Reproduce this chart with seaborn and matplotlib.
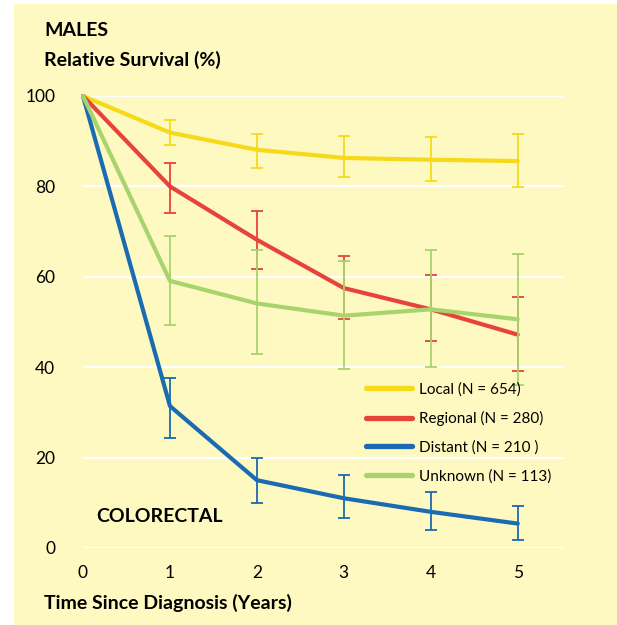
import seaborn as sns
import matplotlib.pyplot as plt
import pandas as pd
from matplotlib.patches import Rectangle
from matplotlib.lines import Line2D

years = [0, 1, 2, 3, 4, 5]
stages = ["Local (N = 654)", "Regional (N = 280)", "Distant (N = 210 )", "Unknown (N = 113)"]
colors = ["#F6DA1A", "#E8433A", "#1A6BB2", "#A8D46E"]

local = [100, 91.9, 88.1, 86.3, 85.9, 85.6]
local_hi = [None, 94.7, 91.6, 91.2, 90.9, 91.6]
local_lo = [None, 89.2, 84.0, 82.0, 81.2, 79.9]

regional = [100, 80.0, 68.2, 57.5, 52.8, 47.2]
regional_hi = [None, 85.2, 74.6, 64.5, 60.5, 55.5]
regional_lo = [None, 74.2, 61.7, 50.6, 45.7, 39.2]

distant = [100, 31.4, 15.0, 11.0, 8.0, 5.4]
distant_hi = [None, 37.7, 20.0, 16.1, 12.3, 9.3]
distant_lo = [None, 24.3, 10.0, 6.7, 4.0, 1.7]

unknown = [100, 59.1, 54.1, 51.4, 52.8, 50.6]
unknown_hi = [None, 69.1, 65.9, 63.5, 65.9, 65.0]
unknown_lo = [None, 49.4, 42.9, 39.5, 40.0, 36.0]

series = [(local, local_hi, local_lo), (regional, regional_hi, regional_lo),
          (distant, distant_hi, distant_lo), (unknown, unknown_hi, unknown_lo)]

rows = []
for name, (vals, hi, lo) in zip(stages, series):
    for x, v in zip(years, vals):
        rows.append({"year": x, "surv": v, "stage": name})
df = pd.DataFrame(rows)

sns.set_style("white")
plt.rcParams["font.family"] = ["Lato", "DejaVu Sans"]
plt.rcParams["text.color"] = "black"

fig = plt.figure(figsize=(6.17, 6.25), dpi=100, facecolor="white")
fig.patches.append(Rectangle((14 / 617, 0), 1, 1 - 4 / 625, transform=fig.transFigure,
                             facecolor="#FEF9C0", edgecolor="none", zorder=-10))

ax = fig.add_axes([83 / 617, 1 - 548 / 625, 480 / 617, 452 / 625])
ax.set_facecolor("none")
ax.set_xlim(0, 5.52)
ax.set_ylim(0, 100)

for y in [0, 20, 40, 60, 80, 100]:
    ax.axhline(y, color="white", lw=1.6, zorder=0)

order = [3, 0, 2, 1]
for i in order:
    vals, hi, lo = series[i]
    xs = years[1:]
    ys = vals[1:]
    yerr = [[v - l for v, l in zip(ys, lo[1:])], [h - v for v, h in zip(ys, hi[1:])]]
    ax.errorbar(xs, ys, yerr=yerr, fmt="none", ecolor=colors[i], elinewidth=1.3,
                capsize=4, capthick=1.3, zorder=2 + i, clip_on=False)

sns.lineplot(data=df, x="year", y="surv", hue="stage", hue_order=stages,
             palette=colors, lw=3.0, ax=ax, legend=False, clip_on=False, zorder=3)

for s in ax.spines.values():
    s.set_visible(False)

ax.set_xticks(years)
ax.set_xticklabels([str(v) for v in years])
ax.set_yticks([0, 20, 40, 60, 80, 100])
ax.set_yticklabels(["0", "20", "40", "60", "80", "100"])
ax.tick_params(axis="x", length=5, width=1.2, color="#1A6BB2", pad=7, labelsize=12.5, labelcolor="black")
ax.tick_params(axis="y", length=0, pad=20, labelsize=12.5, labelcolor="black")
ax.set_xlabel("")
ax.set_ylabel("")

handles = [Line2D([0], [0], color=c, lw=3.8) for c in colors]
leg = ax.legend(handles, stages, loc="upper left", bbox_to_anchor=(283 / 480, 1 - 286 / 452),
                frameon=False, fontsize=11, handlelength=3.0, handletextpad=0.5,
                labelspacing=0.95, borderaxespad=0, borderpad=0)
for t in leg.get_texts():
    t.set_color("black")

fig.text(44 / 617, 1 - 30 / 625, "MALES", fontsize=14, fontweight="bold", va="center")
fig.text(44 / 617, 1 - 60 / 625, "Relative Survival (%)", fontsize=14, fontweight="bold", va="center")
fig.text(44 / 617, 1 - 603 / 625, "Time Since Diagnosis (Years)", fontsize=14, fontweight="bold", va="center")
fig.text(96 / 617, 1 - 517 / 625, "COLORECTAL", fontsize=14, fontweight="bold", va="center")

fig.savefig("out.png", dpi=100)
